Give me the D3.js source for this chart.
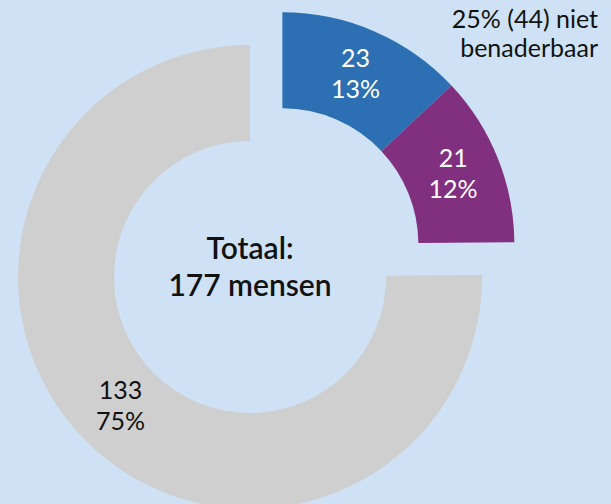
<!DOCTYPE html>
<html>
<head>
<meta charset="utf-8">
<script src="https://cdn.jsdelivr.net/npm/d3@7"></script>
<style>
  html, body { margin: 0; padding: 0; background: #cfe2f5; }
  svg { display: block; font-family: Lato, "Noto Sans", sans-serif; }
</style>
</head>
<body>
<div id="chart"></div>
<script>
// values
var values = [23, 21, 133];
var colors = ["#2d6fb3", "#80307f", "#cfcfcf"];
var labelColors = ["#ffffff", "#ffffff", "#111111"];
var exploded = [true, true, false];
var total = 177;
var centerLines = ["Totaal:", "177 mensen"];
var groupLines = ["25% (44) niet", "benaderbaar"];

var width = 611, height = 504;
var cx = 250, cy = 277;
var outerR = 232, innerR = 136;
var explodeDist = 46;

var svg = d3.select("#chart")
  .append("svg")
    .attr("width", width)
    .attr("height", height);

svg.append("rect")
  .attr("width", width)
  .attr("height", height)
  .attr("fill", "#cfe2f5");

var pie = d3.pie().sort(null).value(function(d) { return d; });
var arcs = pie(values);

var arc = d3.arc().innerRadius(innerR).outerRadius(outerR);

// offset for the pulled-out group: along the bisector of its angles
var grp = arcs.filter(function(d, i) { return exploded[i]; });
var midA = (grp[0].startAngle + grp[grp.length - 1].endAngle) / 2;
var off = [explodeDist * Math.sin(midA), -explodeDist * Math.cos(midA)];

var g = svg.append("g")
  .attr("transform", "translate(" + cx + "," + cy + ")");

var slice = g.selectAll("g.slice")
  .data(arcs)
  .enter()
  .append("g")
    .attr("class", "slice")
    .attr("transform", function(d, i) {
      return exploded[i] ? "translate(" + off[0] + "," + off[1] + ")" : null;
    });

slice.append("path")
  .attr("d", arc)
  .attr("fill", function(d, i) { return colors[i]; });

slice.each(function(d, i) {
  var c = arc.centroid(d);
  var t = d3.select(this).append("text")
    .attr("text-anchor", "middle")
    .attr("fill", labelColors[i])
    .style("font-size", "25px");
  [d.value, Math.round(d.value / total * 100) + "%"].forEach(function(s, k) {
    t.append("tspan")
      .attr("x", c[0])
      .attr("y", c[1] - 15 + k * 31)
      .attr("dominant-baseline", "middle")
      .text(s);
  });
});

// centre text
var ct = g.append("text")
  .attr("text-anchor", "middle")
  .attr("fill", "#111")
  .style("font-size", "30px")
  .style("font-weight", "600");
centerLines.forEach(function(s, k) {
  ct.append("tspan")
    .attr("x", 0)
    .attr("y", -26 + k * 37)
    .attr("dominant-baseline", "middle")
    .text(s);
});

// group label top right
var gt = svg.append("text")
  .attr("text-anchor", "end")
  .attr("fill", "#111")
  .style("font-size", "25px");
groupLines.forEach(function(s, k) {
  gt.append("tspan")
    .attr("x", 598)
    .attr("y", 22 + k * 29)
    .attr("dominant-baseline", "middle")
    .text(s);
});
</script>
</body>
</html>
